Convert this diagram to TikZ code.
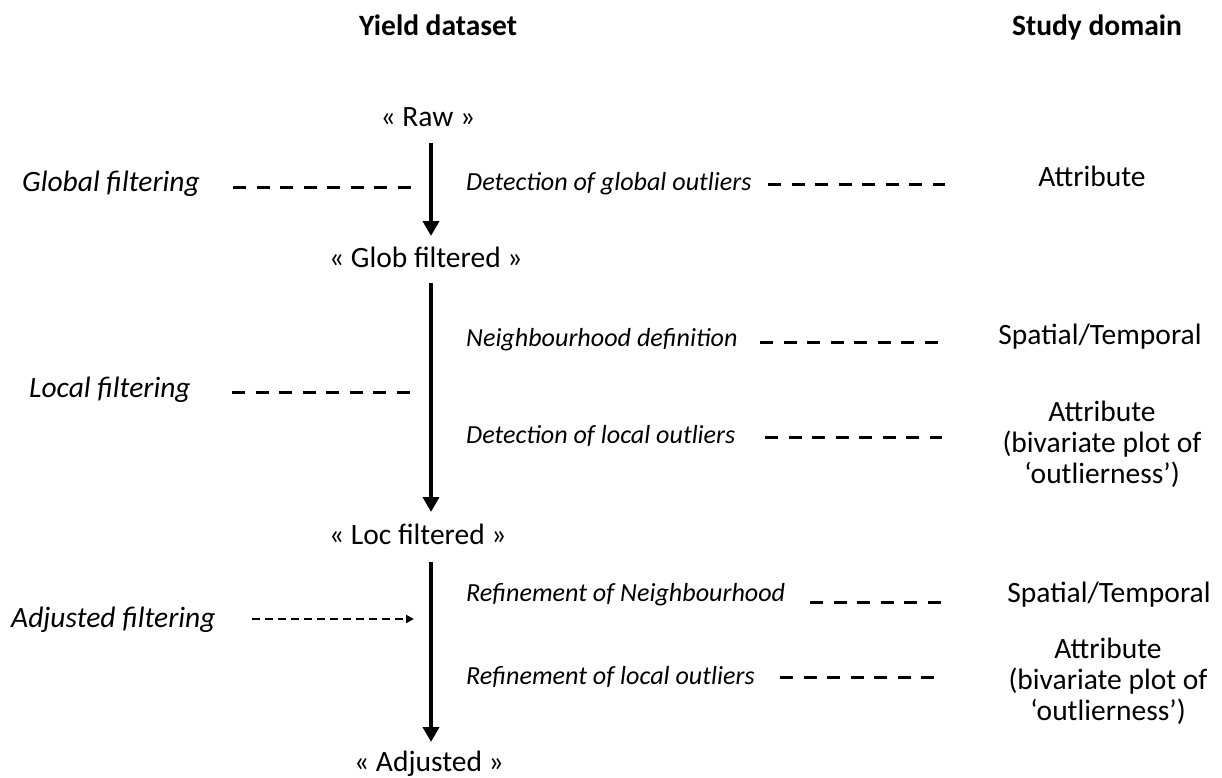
\documentclass[tikz,border=0pt]{standalone}
\usepackage{fontspec}
\setmainfont{Carlito}
\usetikzlibrary{arrows.meta}
\begin{document}
\begin{tikzpicture}[x=1pt,y=-1pt,
  txt/.style={font=\fontsize{29.5}{31}\selectfont, inner sep=0pt, anchor=base},
  lefttxt/.style={txt, anchor=base west},
  itxt/.style={lefttxt, font=\fontsize{29.5}{31}\selectfont\itshape},
  steptxt/.style={lefttxt, font=\fontsize{26.1}{31}\selectfont\itshape},
  head/.style={txt, font=\fontsize{29.5}{31}\selectfont\bfseries},
  block/.style={font=\fontsize{29.5}{31}\selectfont, inner sep=0pt, align=center, anchor=center},
  flow/.style={line width=4pt, -{Triangle[width=16pt,length=15pt]}},
  dashlink/.style={line width=3pt, dash pattern=on 13pt off 10.5pt},
  adjlink/.style={line width=2pt, dash pattern=on 8pt off 5pt, -{Triangle[width=8pt,length=8pt]}}
]
\useasboundingbox (0,0) rectangle (1222,778);

% headers
\node[head] (hyield) at (438,36) {Yield dataset};
\node[head] (hstudy) at (1097,36) {Study domain};

% datasets
\node[txt] (raw) at (428,127) {« Raw »};
\node[lefttxt] (glob) at (329,267) {« Glob filtered »};
\node[lefttxt] (loc) at (329,544) {« Loc filtered »};
\node[txt] (adj) at (429,771) {« Adjusted »};

% main flow arrows
\coordinate (a1s) at (431,143); \coordinate (a1e) at (431,236);
\coordinate (a2s) at (431,283); \coordinate (a2e) at (431,512);
\coordinate (a3s) at (431,562); \coordinate (a3e) at (431,742);
\draw[flow] (a1s) -- (a1e);
\draw[flow] (a2s) -- (a2e);
\draw[flow] (a3s) -- (a3e);

% left labels
\node[itxt] (gf) at (22,191) {Global filtering};
\node[itxt] (lf) at (29,397) {Local filtering};
\node[itxt] (af) at (11,627) {Adjusted filtering};
\coordinate (gfa) at (233,187); \coordinate (gfb) at (416,187);
\coordinate (lfa) at (232,392); \coordinate (lfb) at (415,392);
\coordinate (afa) at (252,619); \coordinate (afb) at (414,619);
\draw[dashlink] (gfa) -- (gfb);
\draw[dashlink] (lfa) -- (lfb);
\draw[adjlink] (afa) -- (afb);

% steps
\node[steptxt] (s1) at (466,190) {Detection of global outliers};
\node[steptxt] (s2) at (466,346) {Neighbourhood definition};
\node[steptxt] (s3) at (466,443) {Detection of local outliers};
\node[steptxt] (s4) at (466,601) {Refinement of Neighbourhood};
\node[steptxt] (s5) at (466,684) {Refinement of local outliers};

% study domain
\node[txt] (d1) at (1092,186) {Attribute};
\node[txt] (d2) at (1100,344) {Spatial/Temporal};
\node[block] (d3) at (1102,444) {Attribute\\(bivariate plot of\\‘outlierness’)};
\node[txt] (d4) at (1109,602) {Spatial/Temporal};
\node[block] (d5) at (1108,681) {Attribute\\(bivariate plot of\\‘outlierness’)};

% dashed links to study domain
\coordinate (l1a) at (768,184); \coordinate (l1b) at (945,184);
\coordinate (l2a) at (760,342); \coordinate (l2b) at (942,342);
\coordinate (l3a) at (765,437); \coordinate (l3b) at (942,437);
\coordinate (l4a) at (810,602); \coordinate (l4b) at (942,602);
\coordinate (l5a) at (780,677); \coordinate (l5b) at (938,677);
\draw[dashlink] (l1a) -- (l1b);
\draw[dashlink] (l2a) -- (l2b);
\draw[dashlink] (l3a) -- (l3b);
\draw[dashlink] (l4a) -- (l4b);
\draw[dashlink] (l5a) -- (l5b);
\end{tikzpicture}
\end{document}
